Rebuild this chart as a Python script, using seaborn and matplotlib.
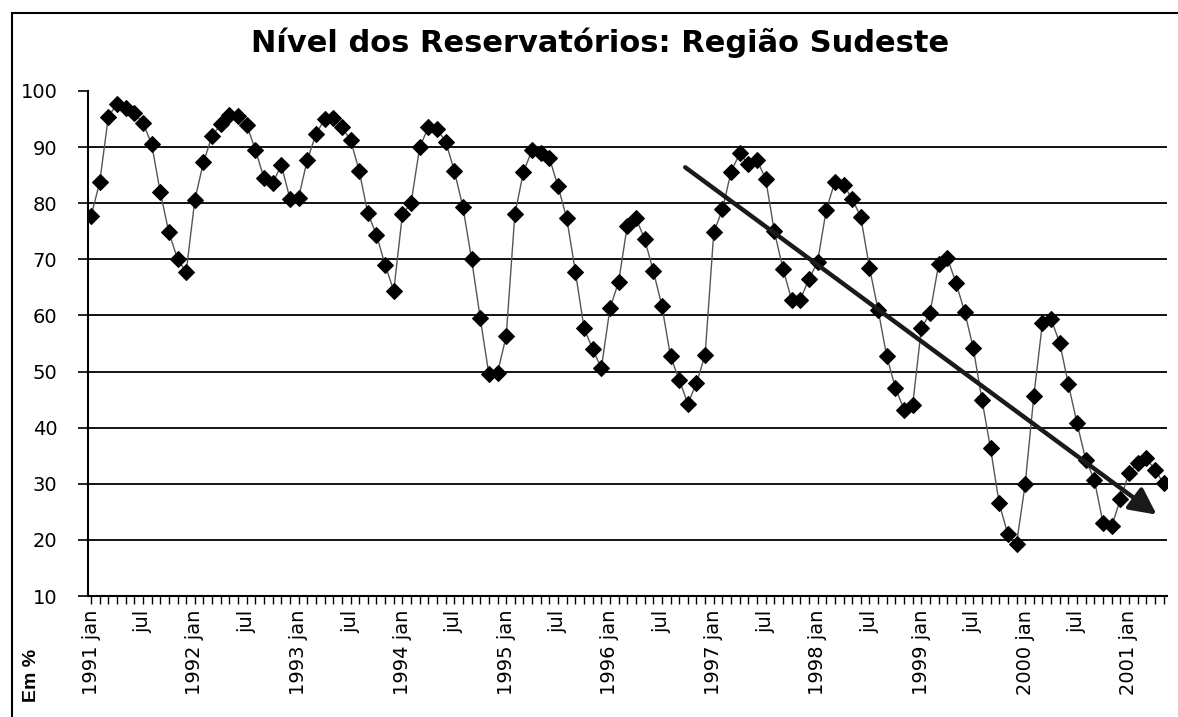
import numpy as np
import pandas as pd
import seaborn as sns
import matplotlib
matplotlib.use("Agg")
import matplotlib.pyplot as plt
from matplotlib.lines import Line2D

# monthly reservoir level (%), jan 1991 .. may 2001
nivel_1991 = [77.7, 83.7, 95.4, 97.7, 97.0, 96.0, 94.3, 90.6, 82.0, 74.8, 70.1, 67.7]
nivel_1992 = [80.6, 87.3, 92.0, 94.1, 95.8, 95.5, 94.0, 89.5, 84.5, 83.6, 86.8, 80.8]
nivel_1993 = [81.0, 87.7, 92.3, 95.0, 95.2, 93.5, 91.3, 85.8, 78.2, 74.4, 69.0, 64.4]
nivel_1994 = [78.0, 80.0, 90.0, 93.5, 93.2, 91.0, 85.8, 79.3, 70.0, 59.5, 49.5, 49.8]
nivel_1995 = [56.3, 78.0, 85.6, 89.5, 89.0, 88.0, 83.0, 77.3, 67.8, 57.7, 54.0, 50.6]
nivel_1996 = [61.3, 66.0, 76.0, 77.4, 73.6, 68.0, 61.7, 52.7, 48.5, 44.3, 47.9, 53.0]
nivel_1997 = [74.8, 78.9, 85.6, 88.9, 87.0, 87.7, 84.3, 75.0, 68.3, 62.8, 62.8, 66.5]
nivel_1998 = [69.5, 78.8, 83.8, 83.3, 80.8, 77.5, 68.5, 61.0, 52.7, 47.1, 43.2, 44.1]
nivel_1999 = [57.7, 60.4, 69.1, 70.3, 65.8, 60.7, 54.2, 45.0, 36.3, 26.5, 21.0, 19.3]
nivel_2000 = [29.9, 45.6, 58.7, 59.3, 55.1, 47.7, 40.8, 34.3, 30.7, 23.0, 22.4, 27.2]
nivel_2001 = [31.9, 33.7, 34.6, 32.5, 30.1]

anos = list(range(1991, 2002))
tick_labels = []
for a in anos:
    tick_labels.append(f"{a} jan")
    if a < 2001:
        tick_labels.append("jul")

# trend arrow (month index, %)
seta_inicio = (68.7, 86.4)
seta_fim = (123.2, 24.5)

nivel = (nivel_1991 + nivel_1992 + nivel_1993 + nivel_1994 + nivel_1995 + nivel_1996
         + nivel_1997 + nivel_1998 + nivel_1999 + nivel_2000 + nivel_2001)
df = pd.DataFrame({"mes": np.arange(len(nivel)), "nivel": nivel})

sns.set_theme(style="white")
plt.rcParams["font.family"] = ["Liberation Sans", "DejaVu Sans"]
plt.rcParams["text.color"] = "black"
plt.rcParams["xtick.color"] = "black"
plt.rcParams["ytick.color"] = "black"

fig = plt.figure(figsize=(11.78, 7.17), dpi=100)
ax = fig.add_axes([88 / 1178, 1 - 596 / 717, (1167 - 88) / 1178, (596 - 91) / 717])

sns.lineplot(data=df, x="mes", y="nivel", ax=ax, color="#555555", linewidth=1.0,
             marker="D", markersize=8.5, markerfacecolor="black", markeredgecolor="black")

ax.set_xlim(-0.35, 124.4)
ax.set_ylim(10, 100)
ax.set_yticks(range(10, 101, 10))
ax.set_yticklabels([str(v) for v in range(10, 101, 10)], fontsize=14, family=["DejaVu Sans"])
ax.set_xticks(range(0, 121, 6))
ax.set_xticklabels(tick_labels, rotation=90, fontsize=14, family=["DejaVu Sans"])
ax.set_xticks(range(0, 125), minor=True)
ax.tick_params(axis="x", which="both", direction="out", length=6, width=1, color="black",
               bottom=True, pad=4)
ax.tick_params(axis="y", direction="out", length=7, width=1.2, color="black", left=True, pad=15)
ax.set_xlabel("")
ax.set_ylabel("")

for v in range(20, 100, 10):
    ax.axhline(v, color="black", linewidth=1.3, zorder=0)

for s in ["top", "right"]:
    ax.spines[s].set_visible(False)
for s in ["left", "bottom"]:
    ax.spines[s].set_color("black")
    ax.spines[s].set_linewidth(1.5)

ax.annotate("", xy=seta_fim, xytext=seta_inicio,
            arrowprops=dict(arrowstyle="-|>", color="#1a1a1a", lw=3.2, mutation_scale=40,
                            shrinkA=0, shrinkB=0))

fig.text(600 / 1178, 1 - 43 / 717, "Nível dos Reservatórios: Região Sudeste",
         ha="center", va="center", fontsize=22, fontweight="bold", color="black",
         family=["DejaVu Sans"])
fig.text(32 / 1178, 1 - 675 / 717, "Em %", rotation=90, ha="center", va="center",
         fontsize=14, fontweight="bold", color="black")

# outer frame of the scanned chart
fig.add_artist(Line2D([12 / 1178, 12 / 1178], [0, 1 - 13 / 717], color="black", lw=1.5))
fig.add_artist(Line2D([12 / 1178, 1], [1 - 13 / 717, 1 - 13 / 717], color="black", lw=1.5))

fig.savefig("out.png", dpi=100)
